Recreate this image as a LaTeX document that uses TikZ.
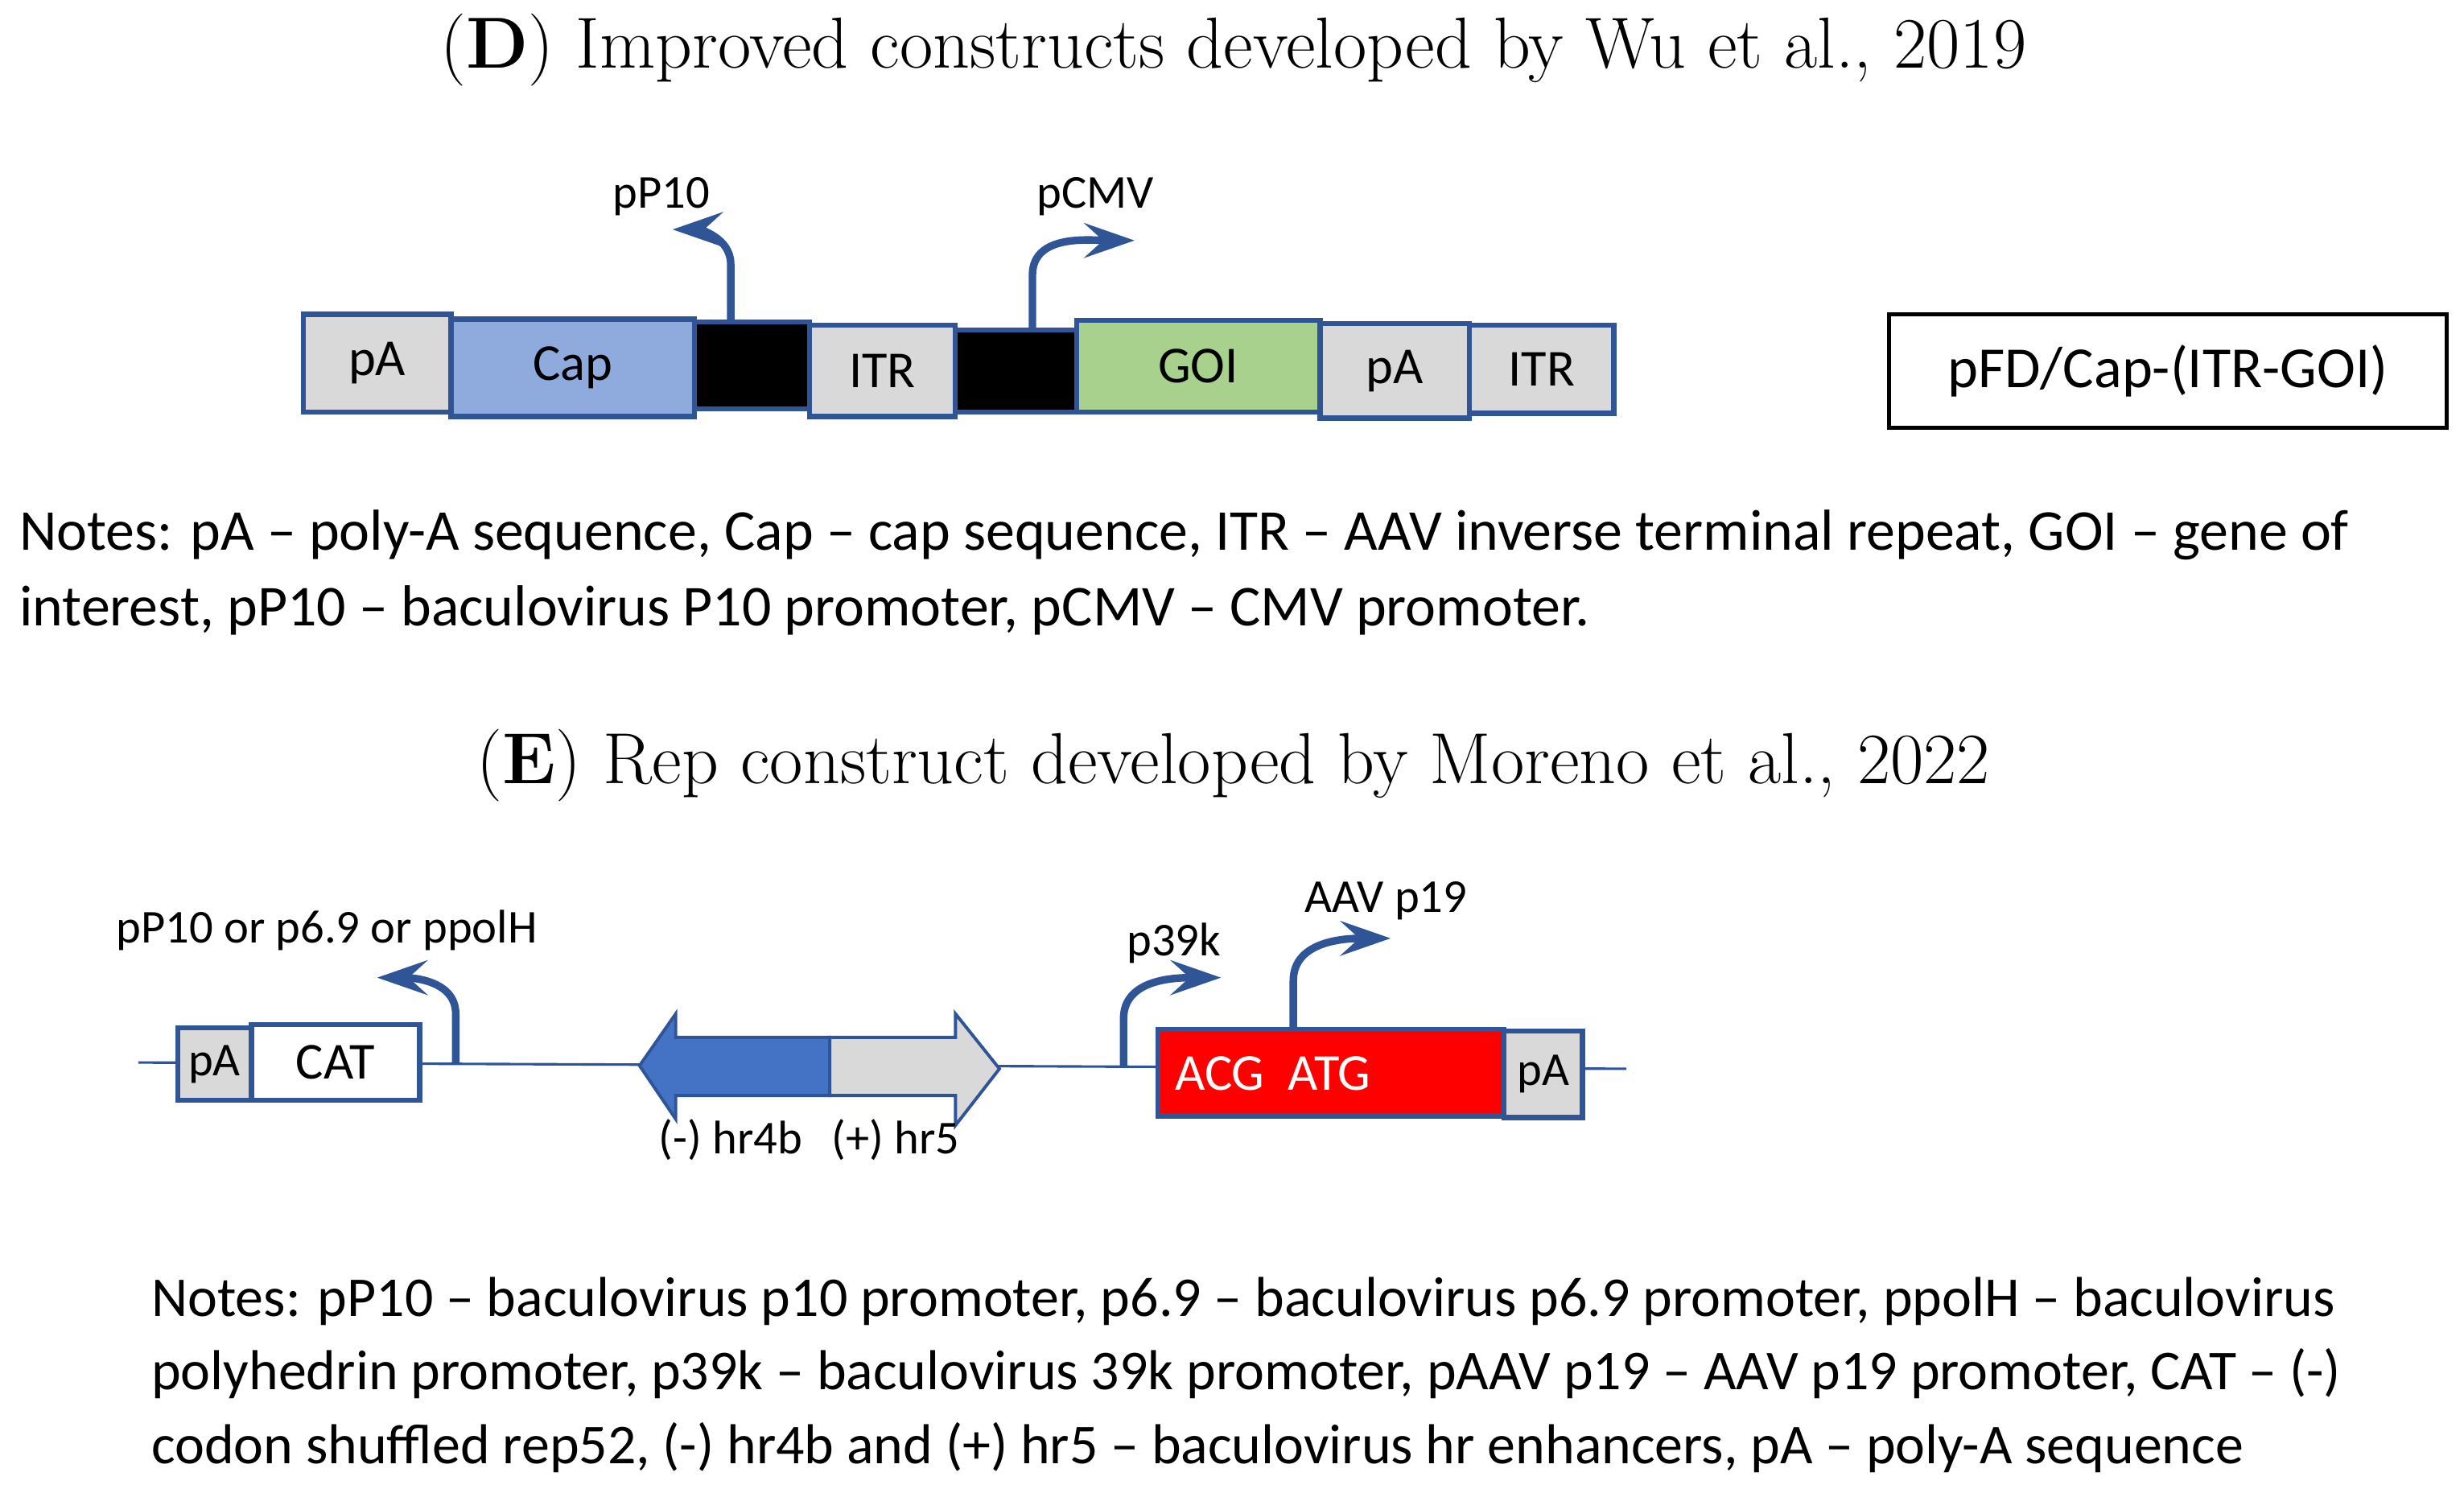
\documentclass[tikz,border=0pt]{standalone}
\usepackage{fontspec}
\setmainfont{Latin Modern Roman}
\newfontfamily\calf{Carlito}[Ligatures=TeX]
\usetikzlibrary{arrows.meta}
\definecolor{bd}{HTML}{2F5597}
\definecolor{gr}{HTML}{D9D9D9}
\definecolor{capc}{HTML}{8FAADC}
\definecolor{goic}{HTML}{A9D18E}
\definecolor{hrb}{HTML}{4472C4}
\begin{document}
\begin{tikzpicture}[x=0.5pt,y=-0.5pt,
 box/.style={draw=bd,line width=1.6pt},
 lab/.style={font=\calf\fontsize{15}{17}\selectfont,inner sep=0},
 blab/.style={font=\calf\fontsize{16.5}{18}\selectfont,inner sep=0},
 prom/.style={draw=bd,line width=2.4pt,-{Stealth[length=16pt,width=11pt,inset=6pt]}},
 notes/.style={font=\calf\fontsize{18.4}{24}\selectfont,anchor=north west,align=left,inner sep=0},
 title/.style={font=\fontsize{23}{26}\selectfont}]
\useasboundingbox (0,0) rectangle (1568,947);
\node[title] (td) at (785,32) {(\textbf{D}) Improved constructs developed by Wu et al., 2019};
\draw[box,fill=gr] (193,200) rectangle (287,262) node[midway,blab] (a1){pA};
\draw[box,fill=capc] (287,203) rectangle (442,265) node[midway,blab] (a2){Cap};
\draw[box,fill=black] (442,205) rectangle (515,260);
\draw[box,fill=gr] (515,207) rectangle (608,265) node[midway,blab] (a3){ITR};
\draw[box,fill=black] (608,210) rectangle (685,262);
\draw[box,fill=goic] (685,204) rectangle (840,262) node[midway,blab] (a4){GOI};
\draw[box,fill=gr] (840,206) rectangle (935,266) node[midway,blab] (a5){pA};
\draw[box,fill=gr] (935,207) rectangle (1027,263) node[midway,blab] (a6){ITR};
\draw[prom] (465,205) -- (465,168) to[out=90,in=0] (428,146);
\draw[prom] (657,210) -- (657,175) to[out=90,in=180] (722,153);
\node[lab] (l1) at (421,125) {pP10};
\node[lab] (l2) at (697,125) {pCMV};
\draw[line width=1.3pt] (1202,200) rectangle (1557,272) node[midway,inner sep=0,font=\calf\fontsize{18.5}{20}\selectfont] (pfd){pFD/Cap-(ITR-GOI)};
\node[notes] (nd) at (12,324) {Notes: pA -- poly-A sequence, Cap -- cap sequence, ITR -- AAV inverse terminal repeat, GOI -- gene of\\interest, pP10 -- baculovirus P10 promoter, pCMV -- CMV promoter.};
\node[title] (te) at (785,487) {(\textbf{E}) Rep construct developed by Moreno et al., 2022};
\draw[bd,line width=0.8pt] (88,676) -- (1035,680);
\draw[box,fill=gr] (113,654) rectangle (160,700) node[midway,lab] (b1){pA};
\draw[box,fill=white] (160,652) rectangle (267,700) node[midway,blab] (b2){CAT};
\draw[prom] (290,677) -- (290,645) to[out=90,in=0] (240,622);
\node[lab] (l3) at (208,592) {pP10 or p6.9 or ppolH};
\draw[bd,line width=1pt,fill=hrb] (528,660) -- (430,660) -- (430,645) -- (407,678) -- (430,712) -- (430,697) -- (528,697) -- cycle;
\draw[bd,line width=1pt,fill=gr] (528,660) -- (608,660) -- (608,645) -- (636,680) -- (608,716) -- (608,697) -- (528,697) -- cycle;
\node[lab] (l4) at (465,725) {(-) hr4b};
\node[lab] (l5) at (570,725) {(+) hr5};
\draw[prom] (715,679) -- (715,648) to[out=90,in=180] (777,622);
\node[lab] (l6) at (747,600) {p39k};
\draw[box,fill=red] (737,655) rectangle (957,710);
\node[blab,text=white] (acg) at (810,683) {ACG\ \ ATG};
\draw[box,fill=gr] (957,656) rectangle (1007,711) node[midway,lab] (b3){pA};
\draw[prom] (823,656) -- (823,624) to[out=90,in=180] (885,597);
\node[lab] (l7) at (882,573) {AAV p19};
\node[notes,font=\calf\fontsize{17.9}{23.5}\selectfont] (ne) at (96,812) {Notes: pP10 -- baculovirus p10 promoter, p6.9 -- baculovirus p6.9 promoter, ppolH -- baculovirus\\polyhedrin promoter, p39k -- baculovirus 39k promoter, pAAV p19 -- AAV p19 promoter, CAT -- (-)\\codon shuffled rep52, (-) hr4b and (+) hr5 -- baculovirus hr enhancers, pA -- poly-A sequence};
\end{tikzpicture}
\end{document}
